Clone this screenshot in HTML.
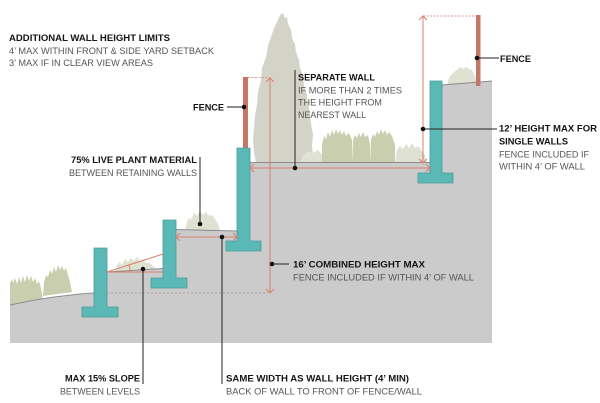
<!DOCTYPE html>
<html><head><meta charset="utf-8"><style>
html,body{margin:0;padding:0;background:#fff;}
svg{display:block;}
text{font-family:"Liberation Sans",sans-serif;font-size:9.6px;}
.b{font-weight:bold;fill:#141414;}
.r{fill:#555;}
</style></head><body>
<svg width="600" height="403" viewBox="0 0 600 403" xmlns="http://www.w3.org/2000/svg">
<!-- tree -->
<path d="M283,13 L285,18 L287,17 L288,24 L291,30 L292,38 L295,44 L296,52 L299,60 L300,68 L303,76 L304,86 L307,95 L308,104 L310,113 L311,124 L313,134 L312,146 L313,155 L311,163 L256,163 L254,152 L253,140 L254,128 L255,116 L257,104 L258,92 L261,80 L262,68 L266,57 L268,46 L271,37 L274,28 L277,22 L280,15 Z" fill="#d4d3c8"/>
<!-- grasses -->
<path d="M10,305 L10,283 L12,279 L13,283 L15,278 L17,284 L19,277 L21,283 L23,276 L25,282 L27,275 L29,281 L31,276 L33,282 L35,278 L37,284 L39,281 L41,288 L43,300 Z" fill="#c8ceae"/>
<path d="M43,296 L44,282 L46,275 L48,277 L50,270 L52,274 L54,267 L56,272 L58,265 L60,270 L62,266 L64,271 L66,268 L68,275 L70,282 L72,292 Z" fill="#c8ceae"/>
<path d="M115,272 L117,265 L120,262 L122,265 L125,259 L128,262 L131,258 L134,261 L137,257 L140,261 L143,259 L146,263 L150,263 L155,268 L155,272 Z" fill="#dfe1d3"/>
<path d="M185,230 L187,222 L189,218 L191,220 L194,213 L197,216 L200,211 L203,215 L206,212 L209,216 L212,215 L215,219 L218,224 L220,230 Z" fill="#dfe1d3"/>
<path d="M300,163 L303,155 L308,151 L313,153 L318,150 L322,155 L322,163 Z" fill="#dfe1d3"/>
<path d="M322,163 L322,145 L324,136 L326,139 L328,132 L330,137 L332,130 L334,135 L336,129 L338,134 L340,130 L342,135 L344,131 L346,136 L349,133 L352,140 L352,163 Z" fill="#c8ceae"/>
<path d="M352,163 L353,140 L355,135 L357,138 L359,133 L361,137 L363,132 L365,137 L368,135 L370,145 L370,163 Z" fill="#c8ceae"/>
<path d="M370,163 L371,140 L373,134 L375,137 L377,131 L379,135 L381,129 L383,134 L385,130 L387,135 L389,132 L392,136 L395,145 L395,163 Z" fill="#c8ceae"/>
<path d="M395,163 L397,150 L400,146 L403,149 L406,144 L409,148 L412,143 L415,148 L418,146 L421,150 L425,155 L427,163 Z" fill="#dfe1d3"/>
<path d="M447,86 L449,78 L451,75 L453,73 L455,71 L457,70 L460,67 L463,69 L466,67 L469,69 L472,70 L474,74 L476,78 L476,86 Z" fill="#dfe1d3"/>
<!-- ground -->
<path d="M10,305 Q55,295 100,292.5 L100,272 L170,268.5 L170,229.5 L243,231 L243,162.5 L436,162.5 L436,85 L492,81 L492,343 L10,343 Z" fill="#cbcbcb"/>
<path d="M10,305 Q55,295 100,292.5 M107,272 L163,268.5 M176,229.5 L237,231 M250,162.5 L430,162.5 M442,85 L492,81" fill="none" stroke="#8c8c8c" stroke-width="0.9"/>
<!-- dashed ground line -->
<line x1="107" y1="293" x2="268" y2="293" stroke="#b8a09a" stroke-width="0.9" stroke-dasharray="2,2"/>
<!-- fences -->
<rect x="243" y="77" width="5" height="71" fill="#c47766"/>
<rect x="476" y="15" width="4.5" height="71" fill="#c47766"/>
<line x1="248" y1="77.5" x2="270" y2="77.5" stroke="#d99a8e" stroke-width="0.9" stroke-dasharray="2,1.5"/>
<line x1="423" y1="16" x2="476" y2="16" stroke="#d99a8e" stroke-width="0.9" stroke-dasharray="2,1.5"/>
<!-- walls -->
<g fill="#5ab8b7" stroke="#4c9c9c" stroke-width="0.8">
<path d="M94,248 H107 V307 H118 V317 H82 V307 H94 Z"/>
<path d="M163,220 H176 V278 H187 V288 H151 V278 H163 Z"/>
<path d="M237,148 H250 V241 H261 V251 H226 V241 H237 Z"/>
<path d="M430,81 H442 V173 H453 V183 H418 V173 H430 Z"/>
</g>
<!-- dimension arrows -->
<g fill="none" stroke="#d9806e" stroke-width="1">
<line x1="270" y1="78" x2="270" y2="293"/>
<polyline points="266,82 270,78 274,82"/>
<polyline points="266,289 270,293 274,289"/>
<line x1="423" y1="16" x2="423" y2="163"/>
<polyline points="419,20 423,16 427,20"/>
<polyline points="419,159 423,163 427,159"/>
<line x1="250" y1="168" x2="430" y2="168"/>
<polyline points="254,164 250,168 254,172"/>
<polyline points="426,164 430,168 426,172"/>
<line x1="176" y1="237" x2="237" y2="237"/>
<polyline points="180,233 176,237 180,241"/>
<polyline points="233,233 237,237 233,241"/>
<line x1="107" y1="272" x2="163" y2="272"/>
<line x1="107" y1="272" x2="163" y2="254"/>
<path d="M129,265 Q130.5,268 129.5,272"/>
</g>
<!-- leaders -->
<g stroke="#222" stroke-width="1" fill="none">
<line x1="227" y1="107" x2="244" y2="107"/>
<line x1="200" y1="157" x2="200" y2="224"/>
<line x1="295" y1="70" x2="295" y2="168"/>
<line x1="477" y1="58" x2="499" y2="58"/>
<line x1="423" y1="129" x2="497" y2="129"/>
<line x1="272" y1="264" x2="289" y2="264"/>
<line x1="143" y1="269" x2="143" y2="384"/>
<line x1="222" y1="237" x2="222" y2="384"/>
</g>
<g fill="#111">
<circle cx="244" cy="107" r="2.3"/>
<circle cx="200" cy="224" r="2.3"/>
<circle cx="295" cy="168" r="2.3"/>
<circle cx="477" cy="58" r="2.3"/>
<circle cx="423" cy="129" r="2.3"/>
<circle cx="272" cy="264" r="2.3"/>
<circle cx="143" cy="269" r="2.3"/>
<circle cx="222" cy="237" r="2.3"/>
</g>
<!-- text -->
<text class="b" x="9" y="41" textLength="161" lengthAdjust="spacingAndGlyphs">ADDITIONAL WALL HEIGHT LIMITS</text>
<text class="r" x="9" y="54" textLength="205" lengthAdjust="spacingAndGlyphs">4’ MAX WITHIN FRONT &amp; SIDE YARD SETBACK</text>
<text class="r" x="9" y="66" textLength="144" lengthAdjust="spacingAndGlyphs">3’ MAX IF IN CLEAR VIEW AREAS</text>
<text class="b" x="193" y="110.5" textLength="31" lengthAdjust="spacingAndGlyphs">FENCE</text>
<text class="b" x="71" y="163" textLength="126" lengthAdjust="spacingAndGlyphs">75% LIVE PLANT MATERIAL</text>
<text class="r" x="69" y="176" textLength="128" lengthAdjust="spacingAndGlyphs">BETWEEN RETAINING WALLS</text>
<text class="b" x="298" y="80.5" textLength="77" lengthAdjust="spacingAndGlyphs">SEPARATE WALL</text>
<text class="r" x="298" y="93.5" textLength="104" lengthAdjust="spacingAndGlyphs">IF MORE THAN 2 TIMES</text>
<text class="r" x="298" y="105.5" textLength="84" lengthAdjust="spacingAndGlyphs">THE HEIGHT FROM</text>
<text class="r" x="298" y="118" textLength="68" lengthAdjust="spacingAndGlyphs">NEAREST WALL</text>
<text class="b" x="500" y="62" textLength="31" lengthAdjust="spacingAndGlyphs">FENCE</text>
<text class="b" x="499" y="131.5" textLength="98" lengthAdjust="spacingAndGlyphs">12’ HEIGHT MAX FOR</text>
<text class="b" x="499" y="144.5" textLength="69" lengthAdjust="spacingAndGlyphs">SINGLE WALLS</text>
<text class="r" x="499" y="157.5" textLength="90" lengthAdjust="spacingAndGlyphs">FENCE INCLUDED IF</text>
<text class="r" x="499" y="169.5" textLength="86" lengthAdjust="spacingAndGlyphs">WITHIN 4’ OF WALL</text>
<text class="b" x="293" y="267.5" textLength="132" lengthAdjust="spacingAndGlyphs">16’ COMBINED HEIGHT MAX</text>
<text class="r" x="293" y="280.5" textLength="181" lengthAdjust="spacingAndGlyphs">FENCE INCLUDED IF WITHIN 4’ OF WALL</text>
<text class="b" x="65" y="381.5" textLength="75" lengthAdjust="spacingAndGlyphs">MAX 15% SLOPE</text>
<text class="r" x="60" y="394.5" textLength="80" lengthAdjust="spacingAndGlyphs">BETWEEN LEVELS</text>
<text class="b" x="226" y="381.5" textLength="183" lengthAdjust="spacingAndGlyphs">SAME WIDTH AS WALL HEIGHT (4’ MIN)</text>
<text class="r" x="226" y="394.5" textLength="196" lengthAdjust="spacingAndGlyphs">BACK OF WALL TO  FRONT OF FENCE/WALL</text>
</svg>
</body></html>
